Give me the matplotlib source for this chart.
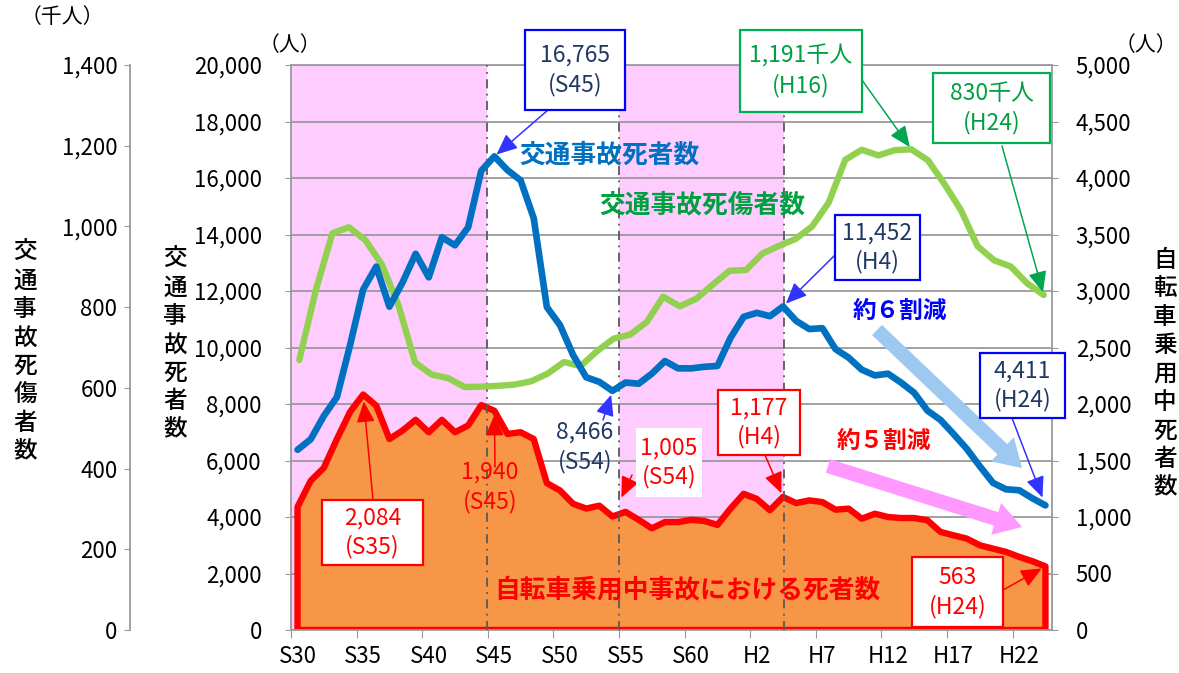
import numpy as np
import matplotlib
matplotlib.use("Agg")
import matplotlib.pyplot as plt
from matplotlib.patches import Rectangle

plt.rcParams["font.family"] = ["Noto Sans CJK JP", "DejaVu Sans"]

# categories S30 (1955) .. H24 (2012)
years = ["S30", "S31", "S32", "S33", "S34", "S35", "S36", "S37", "S38", "S39",
         "S40", "S41", "S42", "S43", "S44", "S45", "S46", "S47", "S48", "S49",
         "S50", "S51", "S52", "S53", "S54", "S55", "S56", "S57", "S58", "S59",
         "S60", "S61", "S62", "S63", "H1", "H2", "H3", "H4", "H5", "H6",
         "H7", "H8", "H9", "H10", "H11", "H12", "H13", "H14", "H15", "H16",
         "H17", "H18", "H19", "H20", "H21", "H22", "H23", "H24"]
xtick_labels = ["S30", "S35", "S40", "S45", "S50", "S55", "S60",
                "H2", "H7", "H12", "H17", "H22"]

# 交通事故死者数 (人)
deaths = [6379, 6751, 7575, 8248, 10079, 12055, 12865, 11445, 12301, 13318,
          12484, 13904, 13618, 14256, 16257, 16765, 16278, 15918, 14574, 11432,
          10792, 9734, 8945, 8783, 8466, 8760, 8719, 9073, 9520, 9262,
          9261, 9317, 9347, 10344, 11086, 11227, 11109, 11452, 10942, 10653,
          10684, 9943, 9642, 9214, 9012, 9073, 8757, 8396, 7768, 7436,
          6937, 6415, 5796, 5209, 4979, 4948, 4663, 4411]

# 自転車乗用中死者数 (人)
bike = [1090, 1320, 1435, 1690, 1930, 2084, 1985, 1690, 1765, 1860,
        1750, 1860, 1750, 1810, 1990, 1940, 1735, 1750, 1690, 1300,
        1235, 1117, 1075, 1100, 1005, 1045, 975, 900, 955, 955,
        975, 965, 930, 1075, 1205, 1160, 1060, 1177, 1123, 1147,
        1132, 1065, 1074, 985, 1029, 1000, 991, 991, 971, 868,
        838, 809, 750, 720, 691, 647, 609, 563]

# 交通事故死傷者数 (千人), plotted on its own 46-category axis
injured = [669, 842, 983, 998, 966, 905, 804, 663, 633, 624,
           602, 603, 605, 608, 616, 635, 664, 654, 691, 722,
           732, 763, 826, 802, 821, 856, 890, 892, 933, 952,
           969, 1000, 1059, 1165, 1190, 1176, 1189, 1191, 1164, 1105,
           1040, 951, 916, 901, 859, 830]

W, H = 1179, 673
def fx(x):
    return x / W
def fy(y):
    return 1 - y / H

fig = plt.figure(figsize=(W / 100, H / 100), dpi=100)
rect = [fx(291), fy(630), (1052 - 291) / W, (630 - 65) / H]
grey = "#9a9a9a"

# right axis (bike deaths) - bottom layer with shading, grid, fill
ax_r = fig.add_axes(rect)
ax_r.set_zorder(1)
ax_r.set_xlim(-0.5, len(years) - 0.5)
ax_r.set_ylim(0, 5000)
ax_r.axvspan(-0.5, 14.45, color="#FFCCFF", lw=0, zorder=0.2)
ax_r.axvspan(24.5, 37.1, color="#FFCCFF", lw=0, zorder=0.2)
ax_r.yaxis.grid(True, color=grey, lw=1.3, zorder=0.5)
ax_r.set_axisbelow(True)
xb = np.arange(len(bike))
ax_r.fill(np.r_[xb[0], xb, xb[-1]], np.r_[0, bike, 0], facecolor="#F79646",
          edgecolor="#FF0000", lw=4.6, joinstyle="round", zorder=2)
for xv in [14.45, 24.5, 37.1]:
    ax_r.axvline(xv, color="#595959", lw=1.3, ls=(0, (5, 3, 1, 3)), zorder=3)
ax_r.yaxis.tick_right()
ax_r.set_yticks(range(0, 5001, 500))
ax_r.set_yticklabels([f"{v:,}" for v in range(0, 5001, 500)])
ax_r.tick_params(axis="y", length=4, color=grey, labelsize=16, pad=13)
ax_r.set_xticks([years.index(l) - 0.5 for l in xtick_labels])
ax_r.set_xticklabels([])
ax_r.set_xticks([years.index(l) for l in xtick_labels], minor=True)
ax_r.set_xticklabels(xtick_labels, minor=True)
ax_r.tick_params(axis="x", which="major", length=6, color=grey)
ax_r.tick_params(axis="x", which="minor", length=0, labelsize=16, pad=11)
ax_r.spines["left"].set_visible(False)
for s in ["right", "top", "bottom"]:
    ax_r.spines[s].set_color(grey)
    ax_r.spines[s].set_linewidth(1.3)

# injured axis (outer left)
ax_g = fig.add_axes(rect)
ax_g.set_zorder(2)
ax_g.patch.set_visible(False)
ax_g.set_xlim(-0.5, len(injured) - 0.5)
ax_g.set_ylim(0, 1400)
ax_g.plot(np.arange(len(injured)), injured, color="#92D050", lw=4.6,
          solid_joinstyle="round", solid_capstyle="round", clip_on=False)
ax_g.set_xticks([])
ax_g.set_yticks(range(0, 1401, 200))
ax_g.set_yticklabels([f"{v:,}" for v in range(0, 1401, 200)])
for s in ["right", "top", "bottom"]:
    ax_g.spines[s].set_visible(False)
ax_g.spines["left"].set_position(("outward", 116))
ax_g.spines["left"].set_color(grey)
ax_g.spines["left"].set_linewidth(1.3)
ax_g.tick_params(axis="y", length=4, color=grey, labelsize=16, pad=5)

# deaths axis (inner left), top layer
ax = fig.add_axes(rect, sharex=ax_r)
ax.set_zorder(3)
ax.patch.set_visible(False)
ax.set_ylim(0, 20000)
ax.plot(np.arange(len(deaths)), deaths, color="#0070C0", lw=4.8,
        solid_joinstyle="round", solid_capstyle="round")
ax.set_yticks(range(0, 20001, 2000))
ax.set_yticklabels([f"{v:,}" for v in range(0, 20001, 2000)])
ax.tick_params(axis="y", length=4, color=grey, labelsize=16, pad=17)
ax.tick_params(axis="x", which="both", length=0, labelbottom=False)
for s in ["right", "top", "bottom"]:
    ax.spines[s].set_visible(False)
ax.spines["left"].set_color(grey)
ax.spines["left"].set_linewidth(1.3)

# axis titles and units
fig.text(fx(25), fy(352), "\n".join("交通事故死傷者数"), ha="center", va="center",
         fontsize=17, linespacing=1.3, fontweight="medium")
fig.text(fx(175), fy(345), "\n".join("交通事故死者数"), ha="center", va="center",
         fontsize=17, linespacing=1.3, fontweight="medium")
fig.text(fx(1165), fy(374), "\n".join("自転車乗用中死者数"), ha="center", va="center",
         fontsize=17, linespacing=1.3, fontweight="medium")
fig.text(fx(62), fy(17), "（千人）", ha="center", va="center", fontsize=15)
fig.text(fx(290), fy(45), "（人）", ha="center", va="center", fontsize=15)
fig.text(fx(1177), fy(45), "（人）", ha="right", va="center", fontsize=15)

# series labels
fig.text(fx(609), fy(155), "交通事故死者数", ha="center", va="center",
         fontsize=18.5, fontweight="bold", color="#0070C0", zorder=6)
fig.text(fx(702), fy(205), "交通事故死傷者数", ha="center", va="center",
         fontsize=18.5, fontweight="bold", color="#00A040", zorder=6)
fig.text(fx(687), fy(590), "自転車乗用中事故における死者数", ha="center", va="center",
         fontsize=18.5, fontweight="bold", color="#FF0000", zorder=6)
fig.text(fx(900), fy(311), "約６割減", ha="center", va="center",
         fontsize=17, fontweight="bold", color="#0000FF", zorder=6)
fig.text(fx(884), fy(441), "約５割減", ha="center", va="center",
         fontsize=17, fontweight="bold", color="#FF0000", zorder=6)

# big trend arrows
for (x0, y0), (x1, y1), c in [((877, 330), (1022, 468), "#9DC8F0"),
                              ((828, 466), (1022, 527), "#FF99FF")]:
    ax.annotate("", xy=(fx(x1), fy(y1)), xycoords="figure fraction",
                xytext=(fx(x0), fy(y0)), textcoords="figure fraction",
                arrowprops=dict(arrowstyle="simple,head_length=0.65,head_width=0.8,tail_width=0.34",
                                fc=c, ec="none", mutation_scale=30, shrinkA=0, shrinkB=0),
                annotation_clip=False)

# callouts: text, box (x0, y0, x1, y1) in pixels or None, arrow start, target
navy, red, green = "#1F3864", "#FF0000", "#00A040"
callouts = [
    ("16,765\n(S45)", (525, 30, 625, 110), navy, "#0000FF", "#3333FF",
     (548, 110), ax, (years.index("S45"), deaths[years.index("S45")]), 2),
    ("1,191千人\n(H16)", (740, 30, 862, 112), green, "#00B050", "#00A650",
     (862, 80), ax_g, (37, injured[37]), 2),
    ("830千人\n(H24)", (933, 73, 1050, 143), green, "#00B050", "#00A650",
     (1002, 146), ax_g, (len(injured) - 1, injured[-1]), 2),
    ("11,452\n(H4)", (835, 215, 920, 280), navy, "#0000FF", "#3333FF",
     (835, 255), ax, (years.index("H4"), deaths[years.index("H4")]), 3),
    ("4,411\n(H24)", (980, 353, 1065, 418), navy, "#0000FF", "#3333FF",
     (1012, 418), ax, (len(deaths) - 1, deaths[-1]), 6),
    ("8,466\n(S54)", None, navy, None, "#3333FF",
     (603, 420), ax, (years.index("S54"), deaths[years.index("S54")]), 3),
    ("1,005\n(S54)", (636, 428, 702, 497), red, "none", "#FF0000",
     (632, 475), ax_r, (years.index("S54"), bike[years.index("S54")]), 15),
    ("1,177\n(H4)", (718, 390, 800, 455), red, "#FF0000", "#FF0000",
     (765, 455), ax_r, (years.index("H4"), bike[years.index("H4")]), 3),
    ("2,084\n(S35)", (322, 500, 423, 565), red, "#FF0000", "#FF0000",
     (373, 500), ax_r, (years.index("S35"), bike[years.index("S35")]), 5),
    ("1,940\n(S45)", None, red, None, "#FF0000",
     (495, 467), ax_r, (years.index("S45"), bike[years.index("S45")]), 3),
    ("563\n(H24)", (912, 557, 1003, 627), red, "#FF0000", "#FF0000",
     (1003, 590), ax_r, (len(bike) - 1, bike[-1]), 3),
]
text_pos = {"8,466\n(S54)": (585, 447), "1,940\n(S45)": (490, 487)}

for txt, box, tcol, ecol, acol, start, tax, target, shrink in callouts:
    ax.annotate("", xy=target, xycoords=tax.transData,
                xytext=(fx(start[0]), fy(start[1])), textcoords="figure fraction",
                arrowprops=dict(arrowstyle="-|>,head_length=0.8,head_width=0.35",
                                color=acol, lw=1.1, shrinkA=0, shrinkB=shrink,
                                mutation_scale=16),
                annotation_clip=False)
    if box is not None:
        x0, y0, x1, y1 = box
        fig.add_artist(Rectangle((fx(x0), fy(y1)), (x1 - x0) / W, (y1 - y0) / H,
                                 transform=fig.transFigure, facecolor="white",
                                 edgecolor=ecol, lw=1.6, zorder=5))
        cx, cy = (x0 + x1) / 2, (y0 + y1) / 2
    else:
        cx, cy = text_pos[txt]
    fig.text(fx(cx), fy(cy), txt, ha="center", va="center", fontsize=16.5,
             color=tcol, linespacing=1.3, zorder=6)

fig.savefig("out.png", dpi=100)
